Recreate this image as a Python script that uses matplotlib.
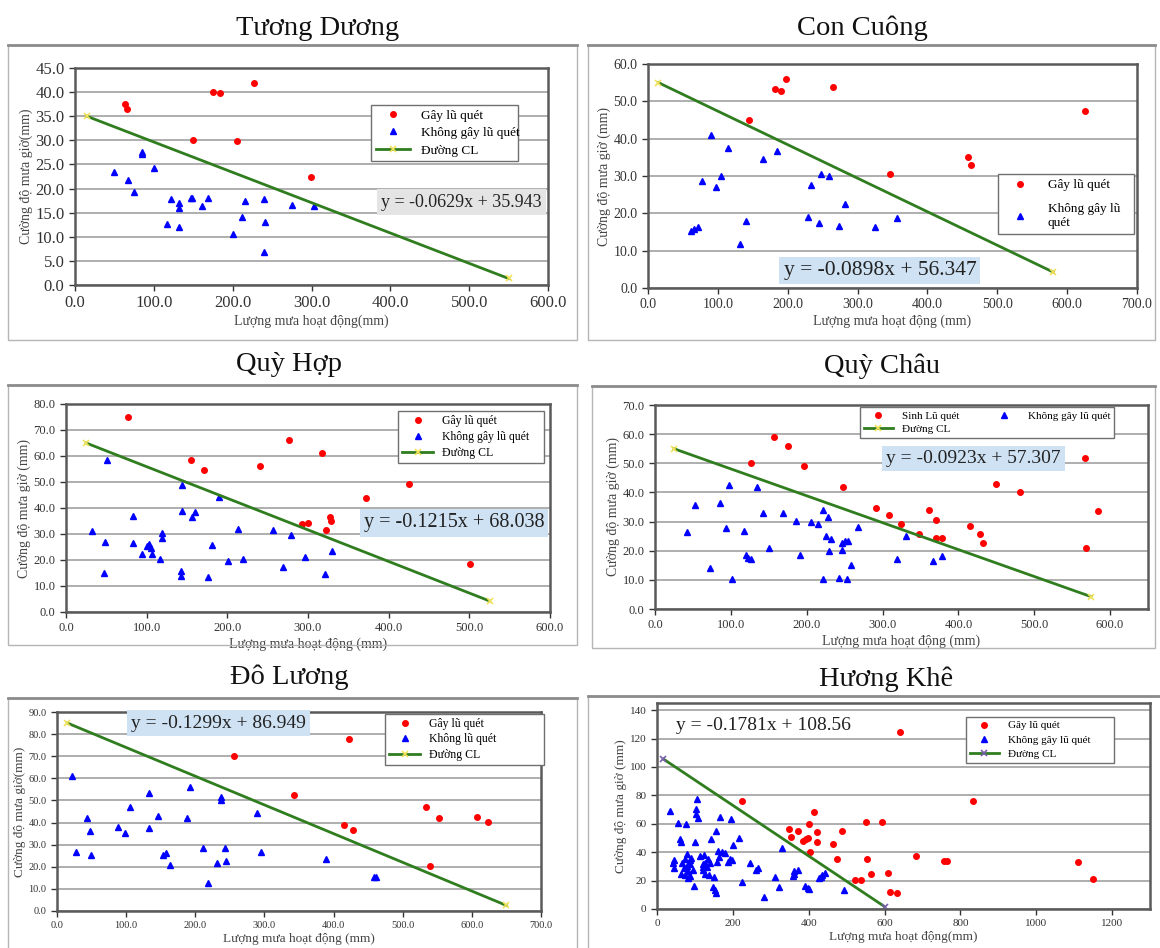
import matplotlib
matplotlib.use('Agg')
import matplotlib.pyplot as plt
from matplotlib.patches import Rectangle
from matplotlib.ticker import FormatStrFormatter

plt.rcParams['font.family'] = ['Liberation Serif', 'DejaVu Serif']

# ---- data: (x = lượng mưa hoạt động, y = cường độ mưa giờ) ----
# 1. Tương Dương
td_red_x = [64, 66, 175, 184, 227, 150, 205, 299]
td_red_y = [37.5, 36.6, 40.0, 39.8, 41.9, 30.0, 29.8, 22.3]
td_blue_x = [49, 67, 75, 85, 85, 100, 117, 122, 132, 132, 132, 147, 149, 161, 169,
             200, 212, 216, 240, 241, 240, 275, 303]
td_blue_y = [23.4, 21.8, 19.3, 27.6, 27.1, 24.3, 12.6, 17.8, 17.1, 15.9, 12.1, 18.1, 18.1,
             16.3, 18.1, 10.5, 14.0, 17.5, 17.8, 13.1, 6.8, 16.5, 16.3]
td_fit = (-0.0629, 35.943)
td_line_x = [15, 550]

# 2. Con Cuông
cc_red_x = [145, 182, 190, 198, 265, 346, 458, 462, 625]
cc_red_y = [45.1, 53.4, 52.9, 55.9, 53.9, 30.5, 35.1, 32.9, 47.4]
cc_blue_x = [62, 66, 71, 77, 90, 97, 104, 115, 132, 140, 165, 185, 229, 233, 245, 247,
             259, 274, 282, 325, 356]
cc_blue_y = [15.4, 15.9, 16.3, 28.6, 41.1, 27.0, 29.9, 37.5, 11.7, 18.0, 34.6, 36.7,
             19.1, 27.5, 17.5, 30.5, 29.9, 16.5, 22.4, 16.4, 18.8]
cc_fit = (-0.0898, 56.347)
cc_line_x = [15, 580]

# 3. Quỳ Hợp
qh_red_x = [77, 155, 171, 241, 276, 317, 292, 300, 322, 327, 329, 372, 425, 501]
qh_red_y = [75.0, 58.6, 54.7, 56.3, 66.3, 61.2, 33.8, 34.4, 31.5, 36.6, 35.1, 43.9, 49.1, 18.5]
qh_blue_x = [32, 47, 48, 51, 83, 83, 94, 101, 103, 105, 107, 117, 119, 119, 142, 143, 144,
             144, 156, 160, 176, 181, 190, 201, 213, 219, 257, 269, 279, 296, 321, 330]
qh_blue_y = [31.0, 15.1, 26.8, 58.6, 37.0, 26.5, 22.5, 25.5, 26.0, 24.5, 22.5, 20.4, 30.2,
             28.5, 14.0, 15.8, 38.9, 48.9, 36.4, 38.3, 13.4, 25.8, 44.1, 19.5, 31.9, 20.4,
             31.4, 17.4, 29.7, 21.1, 14.8, 23.6]
qh_fit = (-0.1215, 68.038)
qh_line_x = [25, 525]

# 4. Quỳ Châu
qc_red_x = [157, 175, 126, 197, 248, 292, 308, 324, 348, 361, 371, 371, 378, 415, 429,
            433, 450, 481, 567, 568, 584]
qc_red_y = [58.9, 56.0, 50.0, 49.2, 42.0, 34.5, 32.2, 29.2, 25.8, 34.0, 30.4, 24.3, 24.3,
            28.4, 25.8, 22.6, 42.8, 40.1, 51.7, 21.0, 33.6]
qc_blue_x = [42, 53, 73, 86, 94, 98, 101, 117, 120, 122, 127, 134, 143, 150, 169, 186,
             191, 206, 215, 221, 222, 225, 228, 229, 232, 243, 246, 246, 250, 253, 254,
             259, 267, 319, 331, 367, 379]
qc_blue_y = [26.4, 35.7, 13.9, 36.4, 27.7, 42.6, 10.2, 26.8, 18.6, 17.4, 17.2, 41.7, 32.8,
             20.8, 33.1, 30.1, 18.4, 29.8, 29.1, 10.2, 34.1, 25.2, 31.6, 19.9, 24.1, 10.5,
             22.8, 20.2, 23.2, 10.2, 23.4, 15.2, 28.0, 17.1, 25.1, 16.4, 18.3]
qc_fit = (-0.0923, 57.307)
qc_line_x = [25, 575]

# 5. Đô Lương
dl_red_x = [256, 422, 343, 415, 428, 534, 552, 539, 607, 623]
dl_red_y = [70.0, 77.6, 52.6, 39.0, 36.6, 47.2, 42.1, 20.5, 42.7, 40.1]
dl_blue_x = [22, 28, 44, 48, 49, 88, 99, 106, 133, 133, 146, 153, 157, 164, 188, 193, 211,
             219, 232, 237, 237, 243, 244, 289, 295, 389, 458, 461]
dl_blue_y = [60.9, 26.8, 41.9, 36.0, 25.5, 38.0, 35.1, 47.0, 37.7, 53.2, 42.8, 25.2, 26.2,
             20.7, 41.9, 55.9, 28.6, 12.7, 21.7, 51.6, 50.1, 28.5, 22.5, 44.2, 26.8, 23.4,
             15.2, 15.2]
dl_fit = (-0.1299, 86.949)
dl_line_x = [15, 650]

# 6. Hương Khê
hk_red_x = [224, 642, 834, 349, 353, 373, 385, 394, 400, 414, 404, 399, 423, 423, 465,
            475, 487, 522, 537, 551, 555, 565, 594, 610, 615, 632, 684, 757, 766, 1109, 1151]
hk_red_y = [76.3, 124.6, 76.3, 56.2, 51.0, 54.8, 48.0, 49.2, 60.0, 68.4, 40.3, 49.9, 53.9,
            47.3, 45.7, 34.9, 54.8, 20.4, 20.4, 61.3, 34.9, 24.6, 61.3, 25.1, 12.2, 11.5,
            37.5, 34.0, 34.0, 33.2, 21.1]
hk_blue_x = [35, 42, 44, 46, 55, 61, 63, 63, 73, 75, 77, 80, 81, 83, 86, 88, 90, 94, 98,
             99, 102, 103, 106, 108, 113, 120, 122, 123, 127, 131, 134, 139, 143, 147,
             151, 152, 155, 156, 158, 160, 164, 166, 172, 186, 195, 197, 201, 215, 223,
             246, 261, 267, 282, 310, 323, 330, 358, 360, 362, 373, 391, 397, 401, 428,
             432, 436, 444, 492, 66, 71, 79, 86, 121, 126, 138, 178, 192]
hk_blue_y = [69.3, 32.5, 28.6, 34.7, 60.6, 49.4, 47.1, 24.6, 23.9, 35.1, 59.7, 38.9, 26.9,
             21.8, 22.9, 31.8, 36.1, 27.6, 16.4, 47.3, 67.2, 70.2, 77.7, 64.2, 37.5, 31.8,
             27.4, 38.2, 24.8, 29.3, 35.1, 32.1, 49.4, 15.2, 22.2, 13.6, 55.0, 11.2, 33.2,
             40.5, 36.8, 65.1, 40.0, 33.0, 63.7, 34.2, 45.2, 50.3, 18.7, 32.1, 27.6, 28.6,
             8.7, 22.2, 15.2, 43.1, 22.9, 24.8, 26.7, 27.6, 15.9, 15.0, 14.0, 22.0, 22.5,
             23.9, 25.3, 13.6, 32.3, 28.8, 30.0, 34.7, 29.8, 32.1, 24.1, 39.3, 35.4]
hk_fit = (-0.1781, 108.56)
hk_line_x = [17, 600]

RED = '#ff0000'
BLUE = '#0000ff'
GREEN = '#2f7d1f'

fig = plt.figure(figsize=(11.6, 9.48), dpi=100)


def px(x0, y0, x1, y1):
    # pixel box -> figure fraction rect
    return [x0 / 1160, 1 - y1 / 948, (x1 - x0) / 1160, (y1 - y0) / 948]


def panel_box(x0, y0, x1, y1):
    r = px(x0, y0, x1, y1)
    fig.add_artist(Rectangle((r[0], r[1]), r[2], r[3], transform=fig.transFigure,
                             fill=False, edgecolor='#b5b5b5', lw=1.0))
    fig.add_artist(plt.Line2D([r[0], r[0] + r[2]], [r[1] + r[3]] * 2,
                              transform=fig.transFigure, color='#8c8c8c', lw=2.0))


def draw(rect, rx, ry, bx, by, fit, lx, xlim, ylim, xstep, ystep, fmt, tick_fs,
         xlabel, ylabel, lab_fs, labels, leg_box, leg_fs, leg_sp, eq_xy, eq_fs, eq_bg,
         end_color='#f2e35a', ncol=1, show_line_legend=True):
    ax = fig.add_axes(rect)
    ax.set_xlim(*xlim)
    ax.set_ylim(*ylim)
    ax.set_xticks([i * xstep for i in range(int(xlim[1] // xstep) + 1)])
    ax.set_yticks([i * ystep for i in range(int(ylim[1] // ystep) + 1)])
    ax.xaxis.set_major_formatter(FormatStrFormatter(fmt))
    ax.yaxis.set_major_formatter(FormatStrFormatter(fmt))
    ax.tick_params(labelsize=tick_fs, colors='#333333', length=4, width=1, direction='out')
    ax.grid(axis='y', color='#a8a8a8', lw=1.3)
    ax.set_axisbelow(True)
    for s in ax.spines.values():
        s.set_color('#5a5a5a')
        s.set_linewidth(1.8)

    ly = [fit[0] * v + fit[1] for v in lx]
    h_red, = ax.plot(rx, ry, 'o', color=RED, ms=4, mec=RED, ls='none')
    h_blue, = ax.plot(bx, by, '^', color=BLUE, ms=5, mec=BLUE, ls='none')
    h_line, = ax.plot(lx, ly, '-', color=GREEN, lw=2.0, marker='x', ms=4,
                      mec=end_color, mfc=end_color, mew=1.2)

    if ncol == 2:
        handles = [h_red, h_line, h_blue]
    elif show_line_legend:
        handles = [h_red, h_blue, h_line]
    else:
        handles = [h_red, h_blue]
    x0, top, w = leg_box
    leg = ax.legend(handles, labels, loc='upper left', bbox_to_anchor=(x0, top - 0.3, w, 0.3),
                    mode='expand', ncol=ncol, fontsize=leg_fs, fancybox=False, framealpha=1,
                    edgecolor='#707070', handlelength=2.6, borderpad=0.35,
                    labelspacing=leg_sp, columnspacing=2.0, borderaxespad=0)
    leg.get_frame().set_linewidth(1.0)

    bbox = None
    if eq_bg:
        bbox = dict(facecolor=eq_bg, edgecolor='none', pad=3)
    ax.text(eq_xy[0], eq_xy[1], 'y = %.4fx + %s' % (fit[0], ('%.3f' % fit[1]).rstrip('0')),
            ha='center', va='center', fontsize=eq_fs, color='#222222', bbox=bbox, zorder=6)

    ax.set_xlabel(xlabel, fontsize=lab_fs, color='#444444', labelpad=2)
    ax.set_ylabel(ylabel, fontsize=lab_fs, color='#444444', labelpad=2)
    return ax


# outer frames
panel_box(8, 45, 577, 340)
panel_box(588, 45, 1155, 340)
panel_box(8, 385, 577, 645)
panel_box(592, 386, 1155, 648)
panel_box(8, 698, 577, 950)
panel_box(588, 696, 1162, 950)

# titles
title_kw = dict(ha='center', va='baseline', fontsize=20.5, color='#111111')
fig.text(318 / 1160, 1 - 35 / 948, 'Tương Dương', **title_kw)
fig.text(862 / 1160, 1 - 35 / 948, 'Con Cuông', **title_kw)
fig.text(289 / 1160, 1 - 371 / 948, 'Quỳ Hợp', **title_kw)
fig.text(882 / 1160, 1 - 373 / 948, 'Quỳ Châu', **title_kw)
fig.text(289 / 1160, 1 - 684 / 948, 'Đô Lương', **title_kw)
fig.text(886 / 1160, 1 - 686 / 948, 'Hương Khê', **title_kw)

std = ['Gây lũ quét', 'Không gây lũ quét', 'Đường CL']

draw(px(75, 68, 548, 285), td_red_x, td_red_y, td_blue_x, td_blue_y, td_fit, td_line_x,
     (0, 600), (0, 45), 100, 5, '%.1f', 12,
     'Lượng mưa hoạt động(mm)', 'Cường độ mưa giờ(mm)', 10,
     std, (0.626, 0.831, 0.311), 9.5, 0.4, (490, 17.2), 13, '#e4e4e4')

draw(px(648, 64, 1137, 288), cc_red_x, cc_red_y, cc_blue_x, cc_blue_y, cc_fit, cc_line_x,
     (0, 700), (0, 60), 100, 10, '%.1f', 10,
     'Lượng mưa hoạt động (mm)', 'Cường độ mưa giờ (mm)', 10,
     ['Gây lũ quét', 'Không gây lũ\nquét'], (0.716, 0.507, 0.278), 9.5, 0.9,
     (332, 4.7), 15.5, '#cfe2f3', show_line_legend=False)

draw(px(66, 404, 550, 612), qh_red_x, qh_red_y, qh_blue_x, qh_blue_y, qh_fit, qh_line_x,
     (0, 600), (0, 80), 100, 10, '%.1f', 9,
     'Lượng mưa hoạt động (mm)', 'Cường độ mưa giờ (mm)', 10,
     std, (0.686, 0.9675, 0.302), 8.5, 0.35, (481, 34.3), 14.5, '#cfe2f3')

draw(px(655, 405, 1148, 609), qc_red_x, qc_red_y, qc_blue_x, qc_blue_y, qc_fit, qc_line_x,
     (0, 650), (0, 70), 100, 10, '%.1f', 9,
     'Lượng mưa hoạt động (mm)', 'Cường độ mưa giờ (mm)', 10,
     ['Sinh Lũ quét', 'Đường CL', 'Không gây lũ quét'], (0.416, 0.989, 0.515), 8, 0.3,
     (420, 51.7), 14, '#cfe2f3', ncol=2)

draw(px(57, 712, 541, 911), dl_red_x, dl_red_y, dl_blue_x, dl_blue_y, dl_fit, dl_line_x,
     (0, 700), (0, 90), 100, 10, '%.1f', 7.5,
     'Lượng mưa hoạt động (mm)', 'Cường độ mưa giờ(mm)', 9.5,
     ['Gây lũ quét', 'Không lũ quét', 'Đường CL'], (0.678, 0.991, 0.329), 8.5, 0.3,
     (233, 85.0), 14, '#cfe2f3')

draw(px(657, 703, 1150, 909), hk_red_x, hk_red_y, hk_blue_x, hk_blue_y, hk_fit, hk_line_x,
     (0, 1300), (0, 145), 200, 20, '%d', 8,
     'Lượng mưa hoạt động(mm)', 'Cường độ mưa giờ (mm)', 9.5,
     std, (0.627, 0.933, 0.300), 8, 0.4, (281, 129.5), 14, None, end_color='#7a5fb0')

fig.savefig('out.png', dpi=100)
